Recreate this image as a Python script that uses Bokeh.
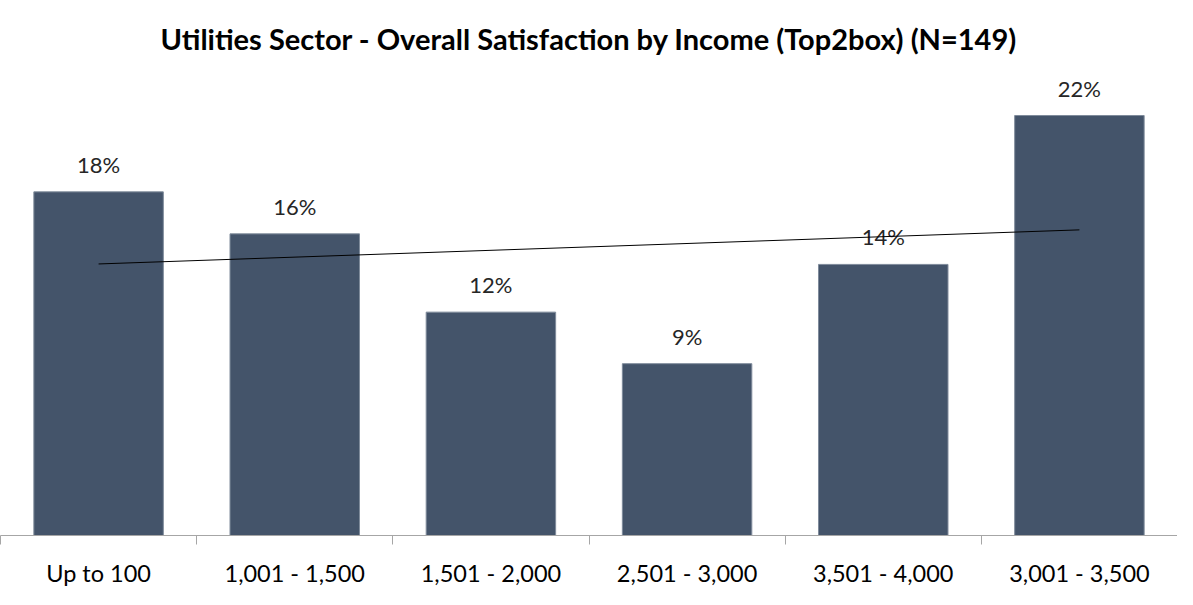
import numpy as np
from bokeh.plotting import figure
from bokeh.models import Range1d, FixedTicker, LinearAxis, ColumnDataSource
from bokeh.core.properties import value
from bokeh.embed import file_html
from bokeh.resources import INLINE

categories = ["Up to 100", "1,001 - 1,500", "1,501 - 2,000", "2,501 - 3,000", "3,501 - 4,000", "3,001 - 3,500"]
values = [18.0, 15.8, 11.7, 9.0, 14.2, 22.0]
title_text = "Utilities Sector - Overall Satisfaction by Income (Top2box) (N=149)"

FONT = "Lato"
xs = list(range(1, len(categories) + 1))
labels = [f"{round(v)}%" for v in values]

src = ColumnDataSource(dict(x=xs, top=values, label=labels))

p = figure(width=1177, height=589, output_backend="svg", toolbar_location=None,
           x_range=Range1d(0.5, len(categories) + 0.5), y_range=Range1d(0, 24.2),
           min_border_left=0, min_border_right=0, min_border_top=72, min_border_bottom=53,
           title=title_text)
p.title.text_font = FONT
p.title.text_font_size = "29px"
p.title.text_font_style = "bold"
p.title.align = "center"
p.title.text_color = "#000000"
p.title.standoff = 36

p.grid.visible = False
p.outline_line_color = None
p.yaxis.visible = False
p.xaxis.visible = False

p.vbar(x="x", top="top", width=0.66, source=src, fill_color="#44546A", line_color="#7f8b9b", line_width=1)

p.text(x="x", y="top", text="label", source=src, text_align="center", text_baseline="bottom",
       y_offset=-14, text_font=value(FONT), text_font_size="22px", text_color="#262626")

# linear trendline
slope, intercept = np.polyfit(xs, values, 1)
tx = [xs[0], xs[-1]]
p.line(tx, [slope * t + intercept for t in tx], line_color="black", line_width=1)

# axis with boundary ticks
ax1 = LinearAxis(ticker=FixedTicker(ticks=[i + 0.5 for i in range(0, len(categories) + 1)]),
                 axis_line_color="#a6a6a6", major_tick_line_color="#a6a6a6",
                 major_tick_out=9, major_tick_in=0, minor_tick_line_color=None,
                 major_label_text_font_size="0px", major_label_standoff=0)
ax1.major_label_overrides = {i + 0.5: "" for i in range(0, len(categories) + 1)}
p.add_layout(ax1, "below")

ax2 = LinearAxis(ticker=FixedTicker(ticks=xs), axis_line_color=None, major_tick_line_color=None,
                 minor_tick_line_color=None, major_label_text_font=FONT,
                 major_label_text_font_size="23.5px", major_label_text_color="#000000",
                 major_label_standoff=8)
ax2.major_label_overrides = {x: c for x, c in zip(xs, categories)}
p.add_layout(ax2, "below")

open("out.html", "w").write(file_html(p, INLINE))
